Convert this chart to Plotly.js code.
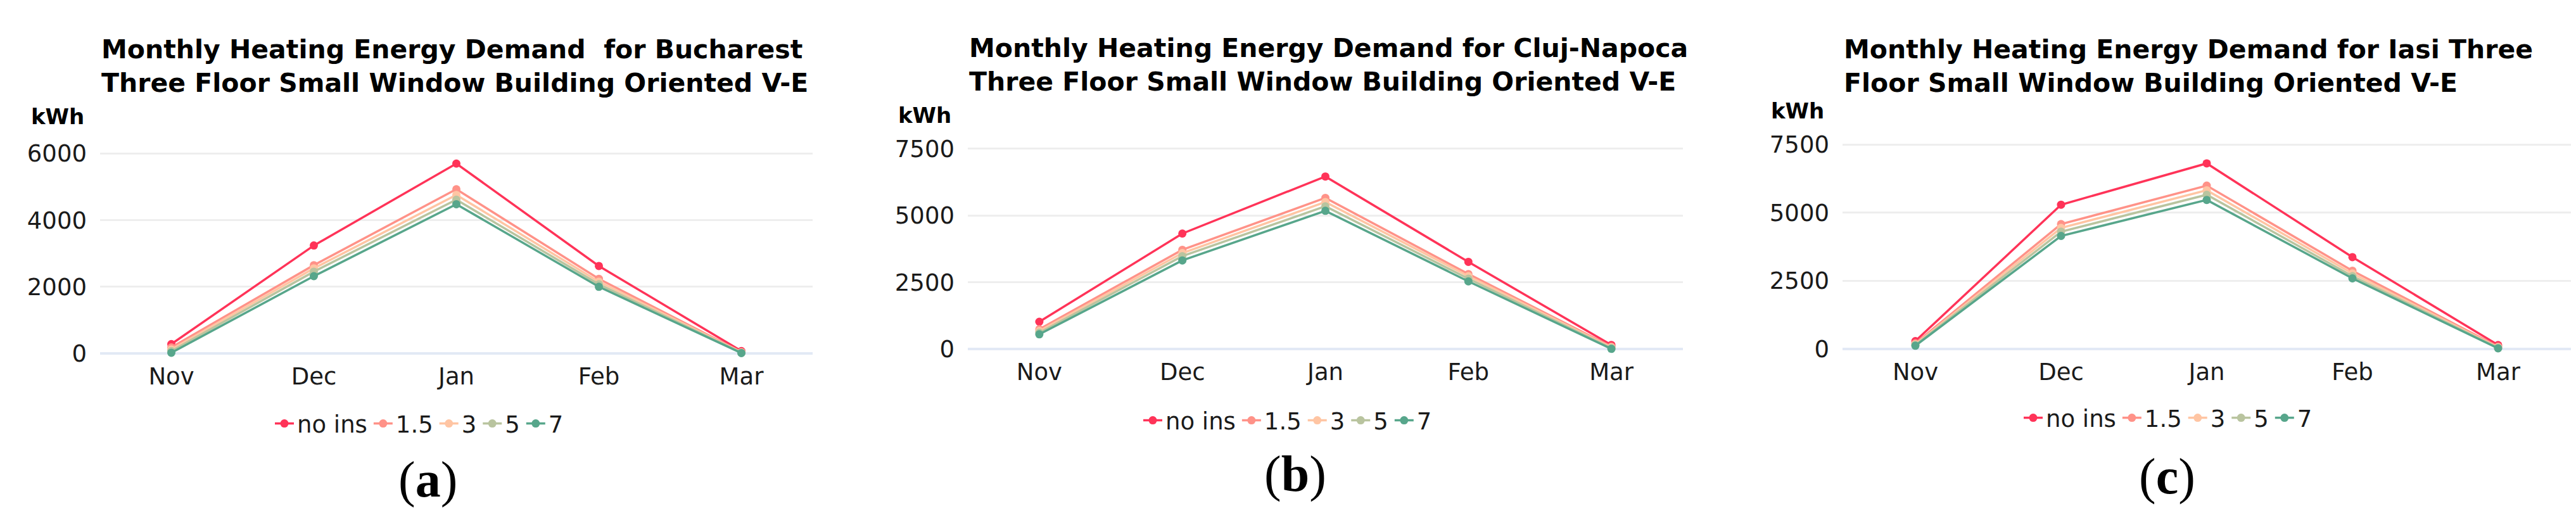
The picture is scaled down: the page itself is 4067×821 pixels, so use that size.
<!DOCTYPE html>
<html>
<head>
<meta charset="utf-8">
<script src="https://cdn.plot.ly/plotly-3.0.1.min.js"></script>
<style>html,body{margin:0;padding:0;background:#fff;}#chart{width:4067px;height:821px;}</style>
</head>
<body>
<div id="chart"></div>
<script>
// ---- Data ----
const months = ['Nov', 'Dec', 'Jan', 'Feb', 'Mar'];
const seriesNames = ['no ins', '1.5', '3', '5', '7'];

// Bucharest (a)
const bucNoIns = [280, 3240, 5700, 2625, 70];
const buc15    = [180, 2650, 4930, 2240, 40];
const buc3     = [120, 2555, 4760, 2155, 30];
const buc5     = [70,  2455, 4615, 2075, 20];
const buc7     = [20,  2320, 4480, 2000, 10];

// Cluj-Napoca (b)
const clujNoIns = [1030, 4330, 6465, 3270, 160];
const cluj15    = [750,  3720, 5665, 2815, 100];
const cluj3     = [685,  3600, 5510, 2735, 70];
const cluj5     = [620,  3485, 5350, 2640, 40];
const cluj7     = [560,  3325, 5180, 2540, 15];

// Iasi (c)
const iasiNoIns = [290, 5290, 6805, 3370, 145];
const iasi15    = [210, 4580, 5990, 2870, 85];
const iasi3     = [170, 4440, 5820, 2770, 60];
const iasi5     = [145, 4300, 5655, 2670, 40];
const iasi7     = [120, 4145, 5465, 2590, 25];

const titles = [
  'Monthly Heating Energy Demand\u00a0 for Bucharest<br>Three Floor Small Window Building Oriented V-E',
  'Monthly Heating Energy Demand for Cluj-Napoca<br>Three Floor Small Window Building Oriented V-E',
  'Monthly Heating Energy Demand for Iasi Three<br>Floor Small Window Building Oriented V-E'
];
const yTicks = [[0, 2000, 4000, 6000], [0, 2500, 5000, 7500], [0, 2500, 5000, 7500]];
const panelLabels = ['a', 'b', 'c'];
const yUnit = 'kWh';

// ---- Styling ----
const colors = ['#ff3358', '#ff9288', '#ffc5a3', '#b9c49f', '#57a68b'];
const W = 4067, H = 821;
const fontFam = 'DejaVu Sans';

const panels = [
  {data: [bucNoIns, buc15, buc3, buc5, buc7], left: 158, right: 1283, bottom: 568.5, top: 226.7, yr: [-200, 6300],
   titleY: 104, unitX: 135, unitY: 184, legX: 662, legY: 669, labX: 675, labY: 757},
  {data: [clujNoIns, cluj15, cluj3, cluj5, cluj7], left: 1528, right: 2657, bottom: 562, top: 222.3, yr: [-250, 7800],
   titleY: 102.5, unitX: 1504, unitY: 182, legX: 2033, legY: 664, labX: 2045, labY: 748},
  {data: [iasiNoIns, iasi15, iasi3, iasi5, iasi7], left: 2909, right: 4059, bottom: 561.8, top: 215.1, yr: [-250, 7800],
   titleY: 104, unitX: 2882, unitY: 175, legX: 3423, legY: 660, labX: 3421, labY: 752}
];

const traces = [];
const layout = {
  width: W, height: H,
  margin: {l: 0, r: 0, t: 0, b: 0},
  paper_bgcolor: '#ffffff', plot_bgcolor: '#ffffff',
  font: {family: fontFam, size: 37, color: '#1a1a1a'},
  showlegend: true,
  annotations: []
};

panels.forEach((p, i) => {
  const sfx = i === 0 ? '' : String(i + 1);
  const legName = 'legend' + sfx;
  p.data.forEach((vals, k) => {
    traces.push({
      type: 'scatter', mode: 'lines+markers',
      x: months, y: vals, name: seriesNames[k],
      xaxis: 'x' + sfx, yaxis: 'y' + sfx,
      legend: legName,
      line: {color: colors[k], width: 3.5},
      marker: {color: colors[k], size: 13},
      hoverinfo: 'x+y+name'
    });
  });
  layout['xaxis' + sfx] = {
    domain: [p.left / W, p.right / W], anchor: 'y' + sfx,
    type: 'category', range: [-0.5, 4.5],
    showgrid: false, zeroline: false, showline: false, ticks: '',
    tickfont: {family: fontFam, size: 37, color: '#1a1a1a'}, fixedrange: true
  };
  layout['yaxis' + sfx] = {
    domain: [1 - p.bottom / H, 1 - p.top / H], anchor: 'x' + sfx,
    range: p.yr, tickvals: yTicks[i], ticktext: yTicks[i].map(String),
    showgrid: true, gridcolor: '#eeeeee', gridwidth: 3,
    zeroline: true, zerolinecolor: '#e2e9f5', zerolinewidth: 4,
    showline: false, ticks: '', ticklabelstandoff: 20,
    tickfont: {family: fontFam, size: 37, color: '#1a1a1a'}, fixedrange: true
  };
  layout[legName] = {
    orientation: 'h', x: p.legX / W, xanchor: 'center', y: 1 - p.legY / H, yanchor: 'middle',
    xref: 'paper', yref: 'paper',
    font: {family: fontFam, size: 37, color: '#1a1a1a'},
    bgcolor: 'rgba(0,0,0,0)', itemwidth: 30, tracegroupgap: 0
  };
  layout.annotations.push({
    xref: 'paper', yref: 'paper', x: p.left / W, y: 1 - p.titleY / H,
    xanchor: 'left', yanchor: 'middle', align: 'left', showarrow: false,
    text: '<b>' + titles[i] + '</b>',
    font: {family: fontFam, size: 41, color: '#000000'}
  });
  layout.annotations.push({
    xref: 'paper', yref: 'paper', x: p.unitX / W, y: 1 - p.unitY / H,
    xanchor: 'right', yanchor: 'middle', showarrow: false,
    text: '<b>' + yUnit + '</b>',
    font: {family: fontFam, size: 34, color: '#000000'}
  });
  layout.annotations.push({
    xref: 'paper', yref: 'paper', x: p.labX / W, y: 1 - p.labY / H,
    xanchor: 'center', yanchor: 'middle', showarrow: false,
    text: '(<b>' + panelLabels[i] + '</b>)',
    font: {family: 'Liberation Serif', size: 80, color: '#000000'}
  });
});

Plotly.newPlot('chart', traces, layout, {displayModeBar: false, staticPlot: true});
</script>
</body>
</html>
